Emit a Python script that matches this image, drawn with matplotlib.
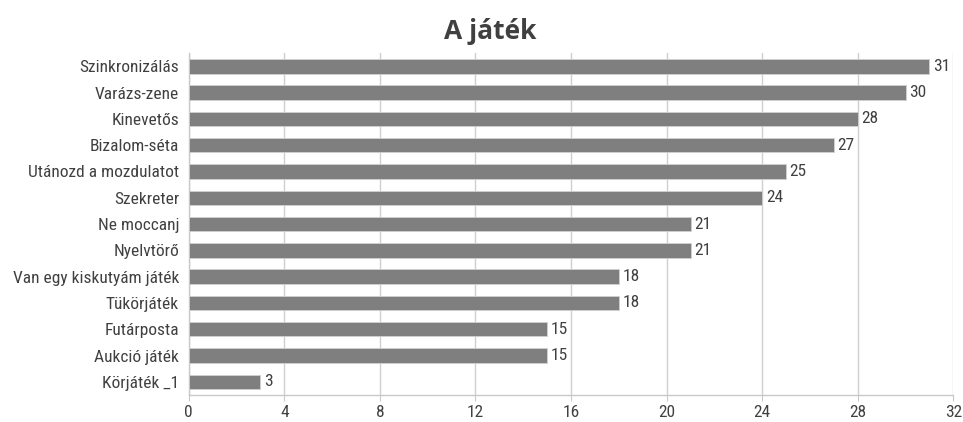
import matplotlib
matplotlib.use("Agg")
import matplotlib.pyplot as plt
from matplotlib import font_manager

categories = ["Szinkronizálás", "Varázs-zene", "Kinevetős", "Bizalom-séta",
              "Utánozd a mozdulatot", "Szekreter", "Ne moccanj", "Nyelvtörő",
              "Van egy kiskutyám játék", "Tükörjáték", "Futárposta",
              "Aukció játék", "Körjáték _1"]
values = [31, 30, 28, 27, 25, 24, 21, 21, 18, 18, 15, 15, 3]
x_ticks = [0, 4, 8, 12, 16, 20, 24, 28, 32]
title = "A játék"

# pick a condensed sans face for the labels when one is available
installed = {f.name for f in font_manager.fontManager.ttflist}
choices = [("Roboto Condensed", 12.5), ("Open Sans Condensed", 12.5),
           ("PT Sans Narrow", 13), ("Fira Sans Condensed", 12),
           ("Archivo Narrow", 12.5), ("Open Sans", 11)]
label_font, fs = next((n, s) for n, s in choices if n in installed or n == "Open Sans")
plt.rcParams['font.family'] = [label_font, 'DejaVu Sans']

fig = plt.figure(figsize=(9.63, 4.22), dpi=100)
ax = fig.add_axes([0.196, 0.064, 0.794, 0.810])

pos = list(range(len(categories)))
ax.barh(pos, values, height=0.55, color="#7f7f7f", edgecolor="#d0d0d0",
        linewidth=0.6, zorder=3)
for p, v in zip(pos, values):
    ax.text(v + 0.15, p, str(v), va="center", ha="left", fontsize=fs,
            color="#404040")

ax.set_ylim(len(categories) - 0.5, -0.5)
ax.set_xlim(0, 32)
ax.set_yticks(pos)
ax.set_yticklabels(categories, fontsize=fs, color="#404040")
ax.set_xticks(x_ticks)
ax.set_xticklabels([str(t) for t in x_ticks], fontsize=fs, color="#404040")
ax.xaxis.grid(True, color="#d0d0d0", linewidth=1.0, zorder=0)
ax.tick_params(axis="y", length=0, pad=7)
ax.tick_params(axis="x", length=4, color="#c8c8c8", pad=3)
for s in ["top", "right"]:
    ax.spines[s].set_visible(False)
for s in ["left", "bottom"]:
    ax.spines[s].set_color("#c8c8c8")
    ax.spines[s].set_linewidth(1.0)

fig.text(0.509, 0.925, title, ha="center", va="center", fontsize=19,
         fontweight="bold", color="#404040", family=['Open Sans', 'DejaVu Sans'])

fig.savefig("out.png", dpi=100)
